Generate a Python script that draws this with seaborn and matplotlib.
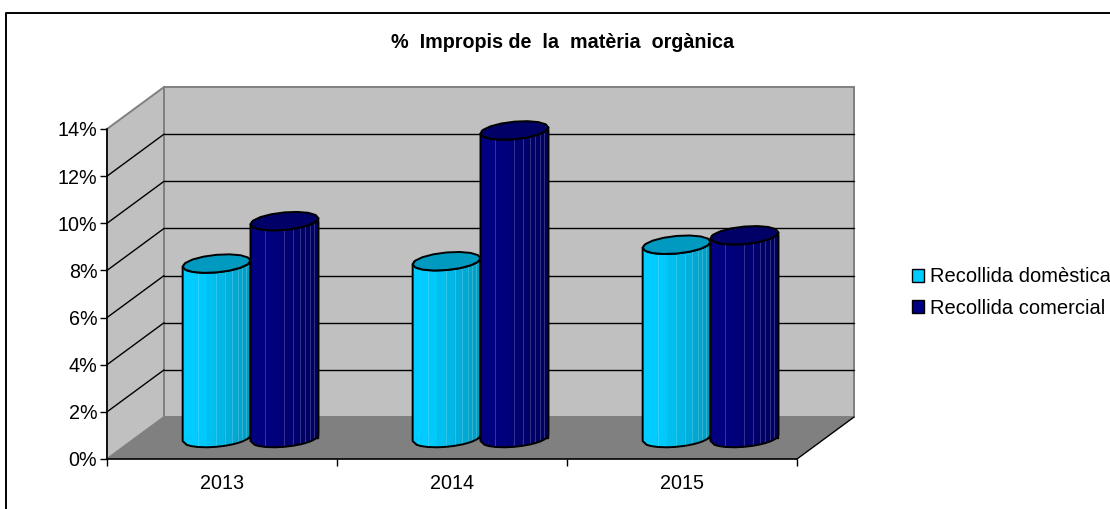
import numpy as np
import pandas as pd
import matplotlib
matplotlib.use("Agg")
import matplotlib.pyplot as plt
import seaborn as sns
from matplotlib.colors import to_rgb
from matplotlib.lines import Line2D
from matplotlib.patches import Polygon
from matplotlib.ticker import PercentFormatter
from matplotlib.transforms import Affine2D

years = ["2013", "2014", "2015"]
domestica = [7.4, 7.5, 8.2]
comercial = [9.2, 13.05, 8.6]
series_names = ["Recollida domèstica", "Recollida comercial"]
y_ticks = [0, 2, 4, 6, 8, 10, 12, 14]

W, H = 1110, 509
BOTTOM, TOP, LEFT, RIGHT = 459, 129, 107, 797

sns.set_theme(style="white")
plt.rcParams["font.family"] = ["Liberation Sans", "DejaVu Sans"]

df = pd.DataFrame({
    "year": years * 2,
    "pct": domestica + comercial,
    "serie": [series_names[0]] * 3 + [series_names[1]] * 3,
})
colors = ["#00CCFF", "#000080"]
caps = ["#0099BF", "#000066"]
shades = ["#0099BF", "#00005C"]

fig = plt.figure(figsize=(W / 100, H / 100), dpi=100)
ax = fig.add_axes([LEFT / W, 1 - BOTTOM / H, (RIGHT - LEFT) / W, (BOTTOM - TOP) / H])
ax.patch.set_alpha(0)

sns.barplot(data=df, x="year", y="pct", hue="serie", palette=colors, hue_order=series_names, saturation=1,
            width=0.59, gap=0, errorbar=None, edgecolor="black", linewidth=1.0, ax=ax, zorder=5)
ax.set_xlim(-0.5, 2.5)
ax.set_ylim(0, 14)

# depth of the box, in data units
depth_x, depth_y = 57 / 230, 42 / 23.6
x0, x1 = ax.get_xlim()
y0, y1 = ax.get_ylim()

wall = "#C0C0C0"
floor = "#808080"
ax.add_patch(Polygon([(x0 + depth_x, y0 + depth_y), (x1 + depth_x, y0 + depth_y),
                      (x1 + depth_x, y1 + depth_y), (x0 + depth_x, y1 + depth_y)],
                     fc=wall, ec=floor, lw=1.4, clip_on=False, zorder=0))
ax.add_patch(Polygon([(x0, y0), (x0 + depth_x, y0 + depth_y), (x0 + depth_x, y1 + depth_y), (x0, y1)],
                     fc=wall, ec=floor, lw=1.4, clip_on=False, zorder=0))
ax.add_patch(Polygon([(x0, y0), (x1, y0), (x1 + depth_x, y0 + depth_y), (x0 + depth_x, y0 + depth_y)],
                     fc=floor, ec="none", clip_on=False, zorder=0.5))
ax.plot([x1, x1 + depth_x], [y0, y0 + depth_y], color="black", lw=1, clip_on=False, zorder=1)
for t in y_ticks[1:-1]:
    ax.plot([x0 + depth_x, x1 + depth_x], [t + depth_y, t + depth_y], color="black", lw=1,
            clip_on=False, zorder=1)
    ax.plot([x0, x0 + depth_x], [t, t + depth_y], color="black", lw=1, clip_on=False, zorder=1)

# cylinders: barplot bars moved to the middle of the depth, then faceted on top
shift = Affine2D().translate(depth_x / 2, depth_y / 2) + ax.transData
facets = np.array([0, 0.06, 0.12, 0.22, 0.36, 0.49, 0.62, 0.73, 0.81, 0.88, 0.94, 0.98, 1])
no_line = [1, 2, 4, 11]
front = 2 * np.pi - np.arccos(2 * facets - 1)
ring = np.linspace(0, 2 * np.pi, 17)[:-1]
tilt, flat = 3.0 / 23.6, 8.8 / 23.6


def ellipse(cx, cy, half, angles):
    return np.column_stack([cx + half * np.cos(angles), cy + tilt * np.cos(angles) + flat * np.sin(angles)])


z = 5
for n, cont in enumerate(ax.containers):
    base = np.array(to_rgb(colors[n]))
    dark = np.array(to_rgb(shades[n]))
    for bar in cont:
        bar.set_transform(shift)
        bar.set_clip_on(False)
        bar.set_zorder(z)
        half = bar.get_width() / 2
        cx = bar.get_x() + half
        h = bar.get_height()
        low = ellipse(cx, 0, half, front)
        high = ellipse(cx, h, half, front)
        for i in range(len(front) - 1):
            f = (facets[i] + facets[i + 1]) / 2
            mix = np.clip((f - 0.25) / 0.75, 0, 1)
            col = base * (1 - mix) + dark * mix
            ax.add_patch(Polygon([low[i], low[i + 1], high[i + 1], high[i]], fc=col, ec=col, lw=0.3,
                                 transform=shift, clip_on=False, zorder=z + 0.1))
            if i > 0 and i not in no_line:
                ax.plot([low[i, 0], high[i, 0]], [low[i, 1], high[i, 1]], color="white", alpha=0.2, lw=0.7,
                        transform=shift, clip_on=False, zorder=z + 0.2)
        outline = np.vstack([low, high[::-1]])
        ax.add_patch(Polygon(outline, fc="none", ec="black", lw=1.4, joinstyle="round", transform=shift,
                             clip_on=False, zorder=z + 0.3))
        ax.add_patch(Polygon(ellipse(cx, h, half, ring), fc=caps[n], ec="black", lw=1.4, joinstyle="round",
                             transform=shift, clip_on=False, zorder=z + 0.4))
        z += 1

handles, labels = ax.get_legend_handles_labels()
leg = ax.legend(handles, labels, loc="center left", bbox_to_anchor=(912 / W, 1 - 292.5 / H),
                bbox_transform=fig.transFigure, frameon=False, fontsize=14.5, handlelength=0.6,
                handleheight=0.6, handletextpad=0.3, labelspacing=0.6, borderpad=0, borderaxespad=0,
                labelcolor="black")
leg.set_zorder(30)

ax.set_xticks([-0.5, 0.5, 1.5, 2.5], labels=[])
ax.set_xticks([0, 1, 2], labels=years, minor=True)
ax.set_yticks(y_ticks)
ax.yaxis.set_major_formatter(PercentFormatter(decimals=0))
ax.tick_params(axis="x", which="major", length=5, width=1, color="black", bottom=True)
ax.tick_params(axis="x", which="minor", length=0, labelsize=14.2, pad=10.5, labelcolor="black")
ax.tick_params(axis="y", length=5, width=1, color="black", left=True, labelsize=14.2, pad=2, labelcolor="black")
ax.set_xlabel("")
ax.set_ylabel("")
for side in ["top", "right"]:
    ax.spines[side].set_visible(False)
for side in ["left", "bottom"]:
    ax.spines[side].set_color("black")
    ax.spines[side].set_linewidth(1.2)
    ax.spines[side].set_zorder(2)

fig.text(563 / W, 1 - 42.5 / H, "%  Impropis de  la  matèria  orgànica", ha="center", va="center",
         fontsize=14.2, fontweight="bold", color="black")
fig.add_artist(Line2D([6 / W, 6 / W, 1], [0, 1 - 13 / H, 1 - 13 / H], color="black", lw=1.4,
                      transform=fig.transFigure))

fig.savefig("out.png", dpi=100)
